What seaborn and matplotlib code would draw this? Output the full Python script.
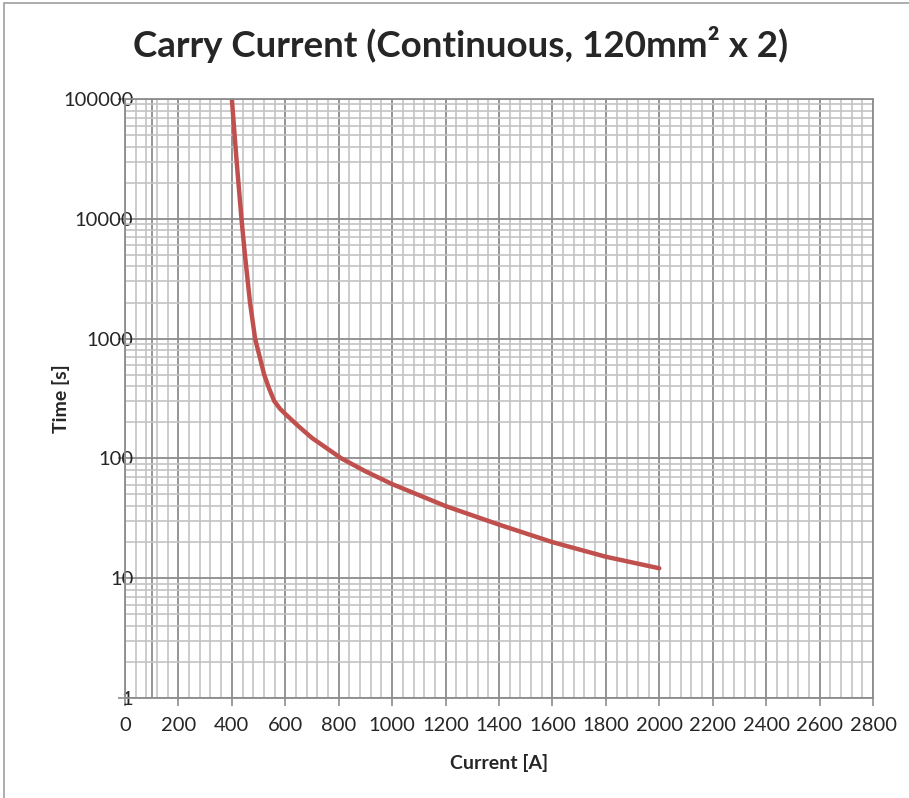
import matplotlib
matplotlib.use("Agg")
import matplotlib.pyplot as plt
import matplotlib.ticker as mticker
from matplotlib.patches import Rectangle
import seaborn as sns
import pandas as pd

# values
current_a = [400, 418, 436, 449, 468, 487, 521, 540, 559, 580, 600, 650, 700, 810, 900, 1000, 1200, 1400, 1600, 1800, 2000]
time_s = [100000, 30000, 10000, 5000, 2000, 1000, 500, 380, 300, 260, 235, 185, 148, 100, 78, 61, 40, 28, 20, 15.1, 12.1]

x_ticks = list(range(0, 2801, 200))
y_ticks = [1, 10, 100, 1000, 10000, 100000]

df = pd.DataFrame({"Current [A]": current_a, "Time [s]": time_s})

sns.set_style("white")
plt.rcParams["font.family"] = ["Lato", "DejaVu Sans"]

fig = plt.figure(figsize=(9.09, 7.98), dpi=100)
ax = fig.add_axes([0.1375, 0.1253, 0.8229, 0.7507])

major_c = "#8c8c8c"
minor_c = "#c3c3c3"

ax.set_yscale("log")
ax.set_xlim(0, 2800)
ax.set_ylim(1, 100000)

ax.xaxis.set_major_locator(mticker.FixedLocator(x_ticks))
ax.xaxis.set_minor_locator(mticker.MultipleLocator(40))
ax.yaxis.set_major_locator(mticker.FixedLocator(y_ticks))
ax.yaxis.set_minor_locator(mticker.LogLocator(base=10, subs=range(2, 10), numticks=20))
ax.yaxis.set_major_formatter(mticker.FuncFormatter(lambda v, p: f"{v:.0f}"))
ax.yaxis.set_minor_formatter(mticker.NullFormatter())

ax.grid(which="minor", color=minor_c, linewidth=1.2)
ax.grid(which="major", color=major_c, linewidth=1.3)
ax.axvline(100, color=major_c, linewidth=1.3, zorder=0.5)
ax.set_axisbelow(True)

sns.lineplot(data=df, x="Current [A]", y="Time [s]", ax=ax, color="#C0504D", linewidth=3.2,
             solid_joinstyle="round", solid_capstyle="round")

for s in ax.spines.values():
    s.set_color(major_c)
    s.set_linewidth(1.3)

ax.tick_params(axis="x", which="major", direction="out", length=6, width=1.2, color=major_c,
               labelsize=14.5, pad=8, bottom=True)
ax.tick_params(axis="y", which="major", direction="out", length=5, width=1.2, color=major_c,
               labelsize=14.5, pad=-11, left=True)
ax.tick_params(which="minor", length=0)

ax.set_xlabel("Current [A]", fontsize=14, fontweight="bold", labelpad=14)
ax.set_ylabel("Time [s]", fontsize=14, fontweight="bold")
ax.yaxis.set_label_coords(-0.0735, 0.5)
fig.text(0.507, 0.944, "Carry Current (Continuous, 120mm² x 2)", fontsize=26.5,
         fontweight="bold", ha="center", va="center")

fig.patches.append(Rectangle((0.004, -0.01), 1.0, 1.006, transform=fig.transFigure,
                             fill=False, edgecolor="#a0a0a0", linewidth=1.2))

fig.savefig("out.png", dpi=100)
